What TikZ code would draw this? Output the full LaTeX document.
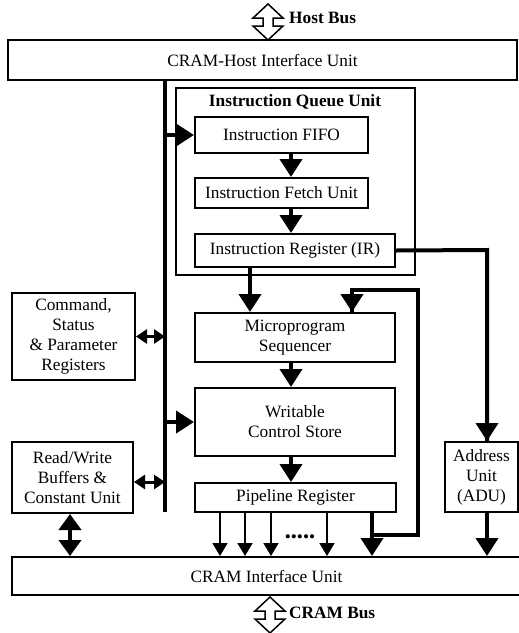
\documentclass[tikz,border=0pt]{standalone}
\usepackage{fontspec}
\setmainfont{Liberation Serif}
\usetikzlibrary{arrows.meta}
\newcommand{\fs}{\fontsize{17.3}{20}\selectfont}
\tikzset{
  box/.style={draw, line width=2pt, inner sep=0pt, align=center, font=\fs},
  frame/.style={draw, line width=1.5pt, inner sep=0pt},
  lbl/.style={inner sep=0pt, font=\fs},
  blbl/.style={inner sep=0pt, font=\fs\bfseries},
  bus/.style={line width=4pt},
  thk/.style={line width=4pt, -{Triangle[width=22pt,length=18pt]}},
  thkline/.style={line width=4pt},
  dbl/.style={line width=4pt, {Triangle[width=22pt,length=16pt]}-{Triangle[width=22pt,length=16pt]}},
  sdbl/.style={line width=3pt, {Triangle[width=14pt,length=11pt]}-{Triangle[width=14pt,length=11pt]}},
  thn/.style={line width=1.5pt, -{Triangle[width=15pt,length=13pt]}},
  hollow/.style={draw, line width=1.5pt, fill=white, line join=miter}
}
\begin{document}
\begin{tikzpicture}[x=1pt,y=-1pt]
\useasboundingbox (0,0) rectangle (519,633);

% main boxes
\node[box, minimum width=509pt, minimum height=40pt] (host) at (262.5,60) {CRAM-Host Interface Unit};
\node[frame, minimum width=239pt, minimum height=187pt] (iqu) at (295.5,181.5) {};
\node[blbl] (iqut) at (295,102) {Instruction Queue Unit};
\node[box, minimum width=173pt, minimum height=36pt] (fifo) at (281.5,135) {Instruction FIFO};
\node[box, minimum width=173pt, minimum height=30pt] (fetch) at (281.5,193) {Instruction Fetch Unit};
\node[box, minimum width=200pt, minimum height=33pt] (ir) at (295,250.5) {Instruction Register (IR)};
\node[box, minimum width=200pt, minimum height=49pt] (ms) at (295,337.5) {Microprogram\\Sequencer};
\node[box, minimum width=200pt, minimum height=68pt] (wcs) at (295,422) {Writable\\Control Store};
\node[box, minimum width=201pt, minimum height=29pt] (pipe) at (295.5,497.5) {Pipeline Register};
\node[box, minimum width=123pt, minimum height=87pt] (cspr) at (73.5,336.5) {Command,\\Status\\\& Parameter\\Registers};
\node[box, minimum width=121pt, minimum height=71pt] (rw) at (72.5,477.5) {Read/Write\\Buffers \&\\Constant Unit};
\node[box, minimum width=73pt, minimum height=70pt] (adu) at (481.5,477) {Address\\Unit\\(ADU)};
\node[box, minimum width=509pt, minimum height=38pt] (cramif) at (266.5,576) {CRAM Interface Unit};

% bus labels
\node[blbl, anchor=west] (hbl) at (289,18) {Host Bus};
\node[blbl, anchor=west] (cbl) at (289,613) {CRAM Bus};
\node[lbl] (dots) at (300,539) {•••••};

% hollow bus arrows
\draw[hollow] (268,4) -- (283,18) -- (273,18) -- (273,26) -- (283,26) -- (268,40)
  -- (253,26) -- (263,26) -- (263,18) -- (253,18) -- cycle;
\draw[hollow] (270,597) -- (285,611) -- (275,611) -- (275,619) -- (285,619) -- (270,633)
  -- (255,619) -- (265,619) -- (265,611) -- (255,611) -- cycle;

% internal bus
\coordinate (busx) at (165,0);
\coordinate (busbot) at (165,512);
\draw[bus] (busx |- host.south) -- (busbot);

% helper coordinates
\coordinate (ax) at (291,0);
\coordinate (irx) at (250,0);
\coordinate (fbx) at (372,0);
\coordinate (lpr) at (418,290);
\coordinate (lpl) at (352,290);
\coordinate (lpb) at (418,535);
\coordinate (adux) at (487,250);
\coordinate (rwy) at (0,482);
\coordinate (rwx) at (70,0);
\coordinate (o1) at (220,0);
\coordinate (o2) at (245,0);
\coordinate (o3) at (271,0);
\coordinate (o4) at (327,0);

% connectors
\draw[thk] (busx |- fifo.west) -- (fifo.west);
\draw[thk] (ax |- fifo.south) -- (ax |- fetch.north);
\draw[thk] (ax |- fetch.south) -- (ax |- ir.north);
\draw[thk] (irx |- ir.south) -- (irx |- ms.north);
\draw[thk] (ax |- ms.south) -- (ax |- wcs.north);
\draw[thk] (busx |- wcs.west) -- (wcs.west);
\draw[thk] (ax |- wcs.south) -- (ax |- pipe.north);
\draw[thkline, line join=miter] (ir.east) -- (adux) -- (adux |- adu.north);
\draw[thk] (adux) -- (adux |- adu.north);
\draw[thk] (fbx |- pipe.south) -- (fbx |- cramif.north);
\draw[thkline, line join=miter] (fbx |- lpb) -- (lpb) -- (lpr) -- (lpl) -- (lpl |- ms.north);
\draw[thk] (lpl) -- (lpl |- ms.north);
\draw[thk] (adu.south -| adux) -- (adux |- cramif.north);
\draw[sdbl] (cspr.east) -- (busx |- cspr.east);
\draw[sdbl] (rw.east |- rwy) -- (busx |- rwy);
\draw[dbl] (rwx |- rw.south) -- (rwx |- cramif.north);
\foreach \o in {o1,o2,o3,o4}
  \draw[thn] (\o |- pipe.south) -- (\o |- cramif.north);
\end{tikzpicture}
\end{document}
